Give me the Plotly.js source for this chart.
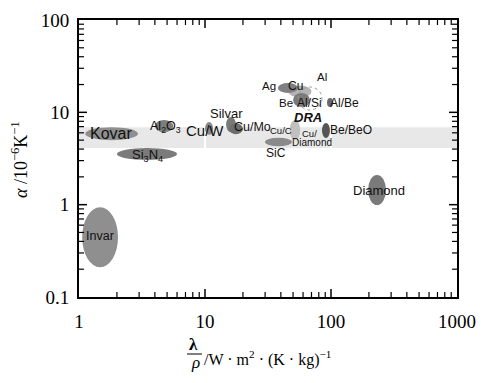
<!DOCTYPE html>
<html><head><meta charset="utf-8">
<script src="https://cdn.plot.ly/plotly-3.0.1.min.js"></script>
<style>html,body{margin:0;padding:0;background:#fff}#chart{width:493px;height:383px}</style>
</head><body><div id="chart"></div>
<script>
// Material property regions: specific thermal conductivity (x) vs CTE (y)
const materials = ['Cu (light)','Cu/C','Kovar','Si3N4','Invar','Al2O3','Cu/W','Silvar','Cu/Mo','SiC','Ag','Al/Si','Al/Be','Be/BeO','Diamond'];
const xLow  = [46,   47,   1.12, 2.0,  1.06, 4.0,  10.0, 14.7, 15.5, 29.9, 37.9, 50,   93,   84.8, 197];
const xHigh = [70,   57,   2.94, 6.0,  2.04, 5.6,  11.6, 17.6, 20.0, 49,   54.7, 68,   104,  98,   273];
const yLow  = [14.5, 5.0,  5.0,  3.05, 0.21, 6.1,  5.7,  6.1,  5.8,  4.3,  16.2, 11.4, 11.4, 5.27, 0.99];
const yHigh = [19.5, 8.25, 6.9,  4.1,  0.94, 8.25, 7.85, 8.9,  7.6,  5.3,  20.8, 16.2, 14.3, 7.65, 2.1];
const fills = ['#b4b4b4','#c0c0c0','#8f8f8f','#7b7b7b','#8f8f8f','#7d7d7d','#8a8a8a','#7a7a7a','#6e6e6e','#8a8a8a','#808080','#7a7a7a','#6a6a6a','#555555','#7a7a7a'];

// DRA region (dashed outline)
const draX = [54.7, 84.8];
const draY = [10.6, 18.8];

// Target CTE band for packaging
const bandX = [1, 1000];
const bandY = [4.1, 6.9];

// Labels
const labelText = ['Kovar','Si<sub>3</sub>N<sub>4</sub>','Invar','Al<sub>2</sub>O<sub>3</sub>','Cu/W','Silvar','Cu/Mo','Cu/C','SiC','Ag','Cu','Al','Be','Al/Si','Al/Be','DRA','Cu/','Be/BeO','Diamond','Diamond'];
const labelX = [1.79, 3.47, 1.47, 4.9, 10.0, 14.7, 24.0, 40.1, 36.6, 32.2, 52.7, 84.8, 43.9, 68.1, 129, 65.7, 68, 144, 70.7, 240];
const labelY = [5.97, 3.45, 0.458, 6.94, 6.28, 9.6, 6.94, 6.28, 3.63, 19.3, 19.3, 24.2, 12.6, 12.6, 12.6, 8.9, 5.9, 6.44, 4.7, 1.41];
const labelSize = [16, 13, 12.5, 12.5, 15, 13, 12.5, 9.5, 12, 11.5, 12, 11.5, 11.5, 12, 12, 13, 9.5, 12, 10, 13];

const xTicks = [1, 10, 100, 1000];
const yTicks = [0.1, 1, 10, 100];
const minorMult = [2, 3, 4, 5, 6, 7, 8, 9];
const xMinor = [1, 10, 100].flatMap(d => minorMult.map(m => m * d));
const yMinor = [0.1, 1, 10].flatMap(d => minorMult.map(m => +(m * d).toPrecision(3)));

const shapes = [];
shapes.push({type:'rect', xref:'x', yref:'y', x0:bandX[0], x1:bandX[1], y0:bandY[0], y1:bandY[1],
  fillcolor:'#e8e8e8', line:{width:0}, layer:'below'});
for (let i = 0; i < materials.length; i++) {
  shapes.push({type:'circle', xref:'x', yref:'y', x0:xLow[i], x1:xHigh[i], y0:yLow[i], y1:yHigh[i],
    fillcolor:fills[i], line:{width:0}, layer:'above'});
}
shapes.push({type:'circle', xref:'x', yref:'y', x0:draX[0], x1:draX[1], y0:draY[0], y1:draY[1],
  line:{width:1, color:'#9a9a9a', dash:'dot'}, layer:'above'});
// fraction bar for x title
shapes.push({type:'line', xref:'paper', yref:'paper', x0:0.2857, x1:0.3254, y0:-0.2058, y1:-0.2058, line:{width:1, color:'#000'}});

// inside tick marks on all four sides (drawn through the axes)
function addXTicks(vals, len, w) {
  vals.forEach(v => {
    shapes.push({type:'line', xref:'x', yref:'paper', ysizemode:'pixel', yanchor:0, x0:v, x1:v, y0:0, y1:len, line:{color:'#000', width:w}});
    shapes.push({type:'line', xref:'x', yref:'paper', ysizemode:'pixel', yanchor:1, x0:v, x1:v, y0:0, y1:-len, line:{color:'#000', width:w}});
  });
}
function addYTicks(vals, len, w) {
  vals.forEach(v => {
    shapes.push({type:'line', yref:'y', xref:'paper', xsizemode:'pixel', xanchor:0, y0:v, y1:v, x0:0, x1:len, line:{color:'#000', width:w}});
    shapes.push({type:'line', yref:'y', xref:'paper', xsizemode:'pixel', xanchor:1, y0:v, y1:v, x0:0, x1:-len, line:{color:'#000', width:w}});
  });
}
addXTicks(xTicks.slice(1, -1), 8, 1.5);
addYTicks(yTicks.slice(1, -1), 8, 1.5);
addXTicks(xMinor, 5, 1.2);
addYTicks(yMinor, 5, 1.2);

const annotations = labelText.map((t, i) => ({
  xref:'x', yref:'y', x:Math.log10(labelX[i]), y:Math.log10(labelY[i]),
  text: t === 'DRA' ? '<b><i>DRA</i></b>' : t, showarrow:false,
  font:{family:'Arial, Liberation Sans, sans-serif', size:labelSize[i], color:'#111'},
  xanchor:'center', yanchor:'middle'
}));
const serif = 'Liberation Serif, Times New Roman, serif';
annotations.push({xref:'paper', yref:'paper', x:0.3016, y:-0.173, text:'<b>λ</b>', showarrow:false, font:{family:serif, size:17, color:'#000'}, xanchor:'center', yanchor:'middle'});
annotations.push({xref:'paper', yref:'paper', x:0.307, y:-0.238, text:'<i>ρ</i>', showarrow:false, font:{family:serif, size:17, color:'#000'}, xanchor:'center', yanchor:'middle'});
annotations.push({xref:'paper', yref:'paper', x:0.3254, y:-0.2238, text:'/W · m<sup>2</sup> · (K · kg)<sup>−1</sup>', showarrow:false, font:{family:serif, size:16, color:'#000'}, xanchor:'left', yanchor:'middle'});
annotations.push({xref:'paper', yref:'paper', x:-0.156, y:0.4946, text:'<i>α</i> /10<sup>−6</sup>K<sup>−1</sup>', showarrow:false, textangle:-90, font:{family:serif, size:18, color:'#000'}, xanchor:'center', yanchor:'middle'});

const axisCommon = {
  type:'log', showline:true, linecolor:'#000', linewidth:2, mirror:true,
  ticks:'', tickmode:'array',
  tickfont:{family:serif, size:19, color:'#000'}, zeroline:false
};

const layout = {
  width:493, height:383,
  margin:{l:79, r:36, t:20, b:86},
  paper_bgcolor:'#fff', plot_bgcolor:'#fff',
  showlegend:false,
  xaxis:Object.assign({}, axisCommon, {range:[0,3], tickvals:xTicks, ticktext:xTicks.map(String),
    showgrid:true, gridcolor:'#fff', gridwidth:2, ticklabelstandoff:6}),
  yaxis:Object.assign({}, axisCommon, {range:[-1,2], tickvals:yTicks, ticktext:yTicks.map(String), showgrid:false, ticklabelstandoff:4}),
  shapes:shapes, annotations:annotations
};

Plotly.newPlot('chart', [{x:[1], y:[1], mode:'markers', marker:{opacity:0}, hoverinfo:'skip'}], layout, {displayModeBar:false, staticPlot:true});
</script></body></html>
